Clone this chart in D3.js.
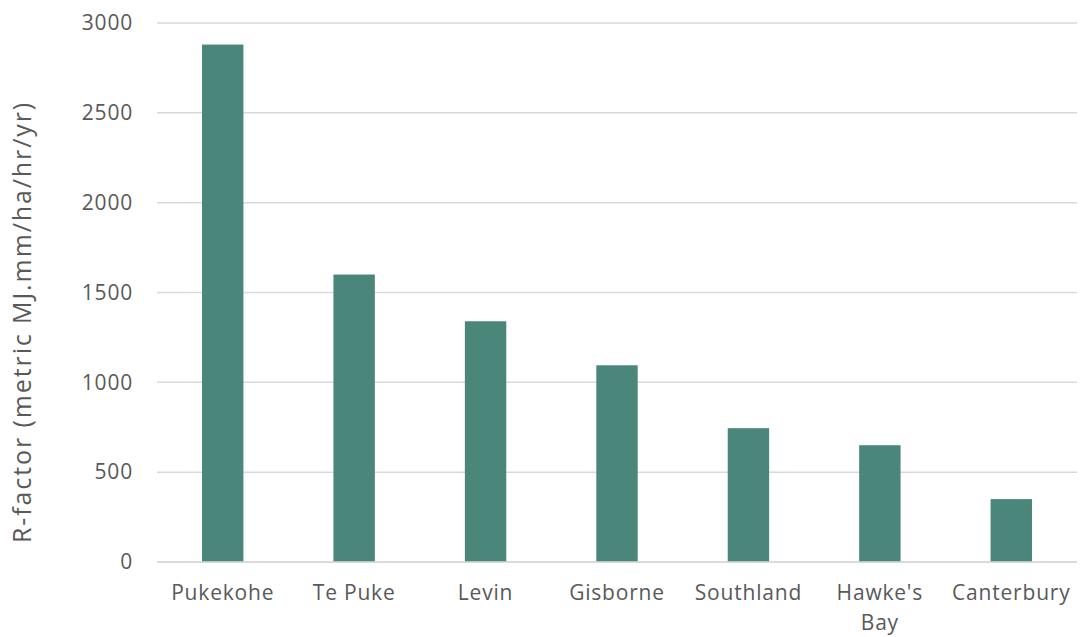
<!DOCTYPE html>
<html>
<head>
<meta charset="utf-8">
<script src="https://cdn.jsdelivr.net/npm/d3@7"></script>
<style>
  html, body { margin: 0; padding: 0; background: #fff; }
  svg text { font-family: "Open Sans", "Noto Sans", sans-serif; fill: #595959; letter-spacing: 0.8px; }
</style>
</head>
<body>
<svg id="chart" width="1082" height="637"></svg>
<script>
// Rainfall erosivity by region
const regions = ["Pukekohe", "Te Puke", "Levin", "Gisborne", "Southland", "Hawke's Bay", "Canterbury"];
const rFactor = [2880, 1600, 1340, 1095, 745, 650, 350];
const yTicks = [0, 500, 1000, 1500, 2000, 2500, 3000];
const yTitle = "R-factor (metric MJ.mm/ha/hr/yr)";

const svg = d3.select("#chart");
const margin = { top: 23, right: 5, bottom: 75, left: 157 };
const width = 1082 - margin.left - margin.right;
const height = 637 - margin.top - margin.bottom;

const g = svg.append("g").attr("transform", `translate(${margin.left},${margin.top})`);

const x = d3.scaleBand().domain(regions).range([0, width]).paddingInner(0.685).paddingOuter(0.3425);
const y = d3.scaleLinear().domain([0, 3000]).range([height, 0]);

// Horizontal gridlines
g.append("g")
  .selectAll("line")
  .data(yTicks)
  .join("line")
  .attr("x1", 0)
  .attr("x2", width)
  .attr("y1", d => y(d))
  .attr("y2", d => y(d))
  .attr("stroke", "#d9d9d9")
  .attr("stroke-width", 1.5);

// Y axis labels
const yAxis = g.append("g")
  .call(d3.axisLeft(y).tickValues(yTicks).tickFormat(d3.format("d")).tickSize(0).tickPadding(24));
yAxis.select(".domain").remove();
yAxis.selectAll("text")
  .style("font-size", "21px")
  .attr("fill", "#595959");

// Bars
g.append("g")
  .selectAll("rect")
  .data(regions)
  .join("rect")
  .attr("x", d => x(d))
  .attr("width", x.bandwidth())
  .attr("y", (d, i) => y(rFactor[i]))
  .attr("height", (d, i) => y(0) - y(rFactor[i]))
  .attr("fill", "#4a877a");

// Baseline
g.append("line")
  .attr("x1", 0).attr("x2", width)
  .attr("y1", y(0)).attr("y2", y(0))
  .attr("stroke", "#d9d9d9").attr("stroke-width", 1.5);

// X axis labels, wrapped where a label is too long for its band
const xAxis = g.append("g")
  .attr("transform", `translate(0,${height})`)
  .call(d3.axisBottom(x).tickSize(0).tickPadding(23));
xAxis.select(".domain").remove();
xAxis.selectAll("text")
  .style("font-size", "21px")
  .attr("fill", "#595959")
  .each(function(d) {
    const t = d3.select(this);
    if (d === "Hawke's Bay") {
      const words = d.split(" ");
      t.text(null);
      words.forEach((w, i) => {
        t.append("tspan").attr("x", 0).attr("dy", i === 0 ? "0.71em" : "1.45em").text(w);
      });
      t.attr("dy", null);
    }
  });

// Y axis title
svg.append("text")
  .attr("transform", "translate(31,322) rotate(-90)")
  .attr("text-anchor", "middle")
  .style("font-size", "25px")
  .style("letter-spacing", "1.9px")
  .text(yTitle);
</script>
</body>
</html>
